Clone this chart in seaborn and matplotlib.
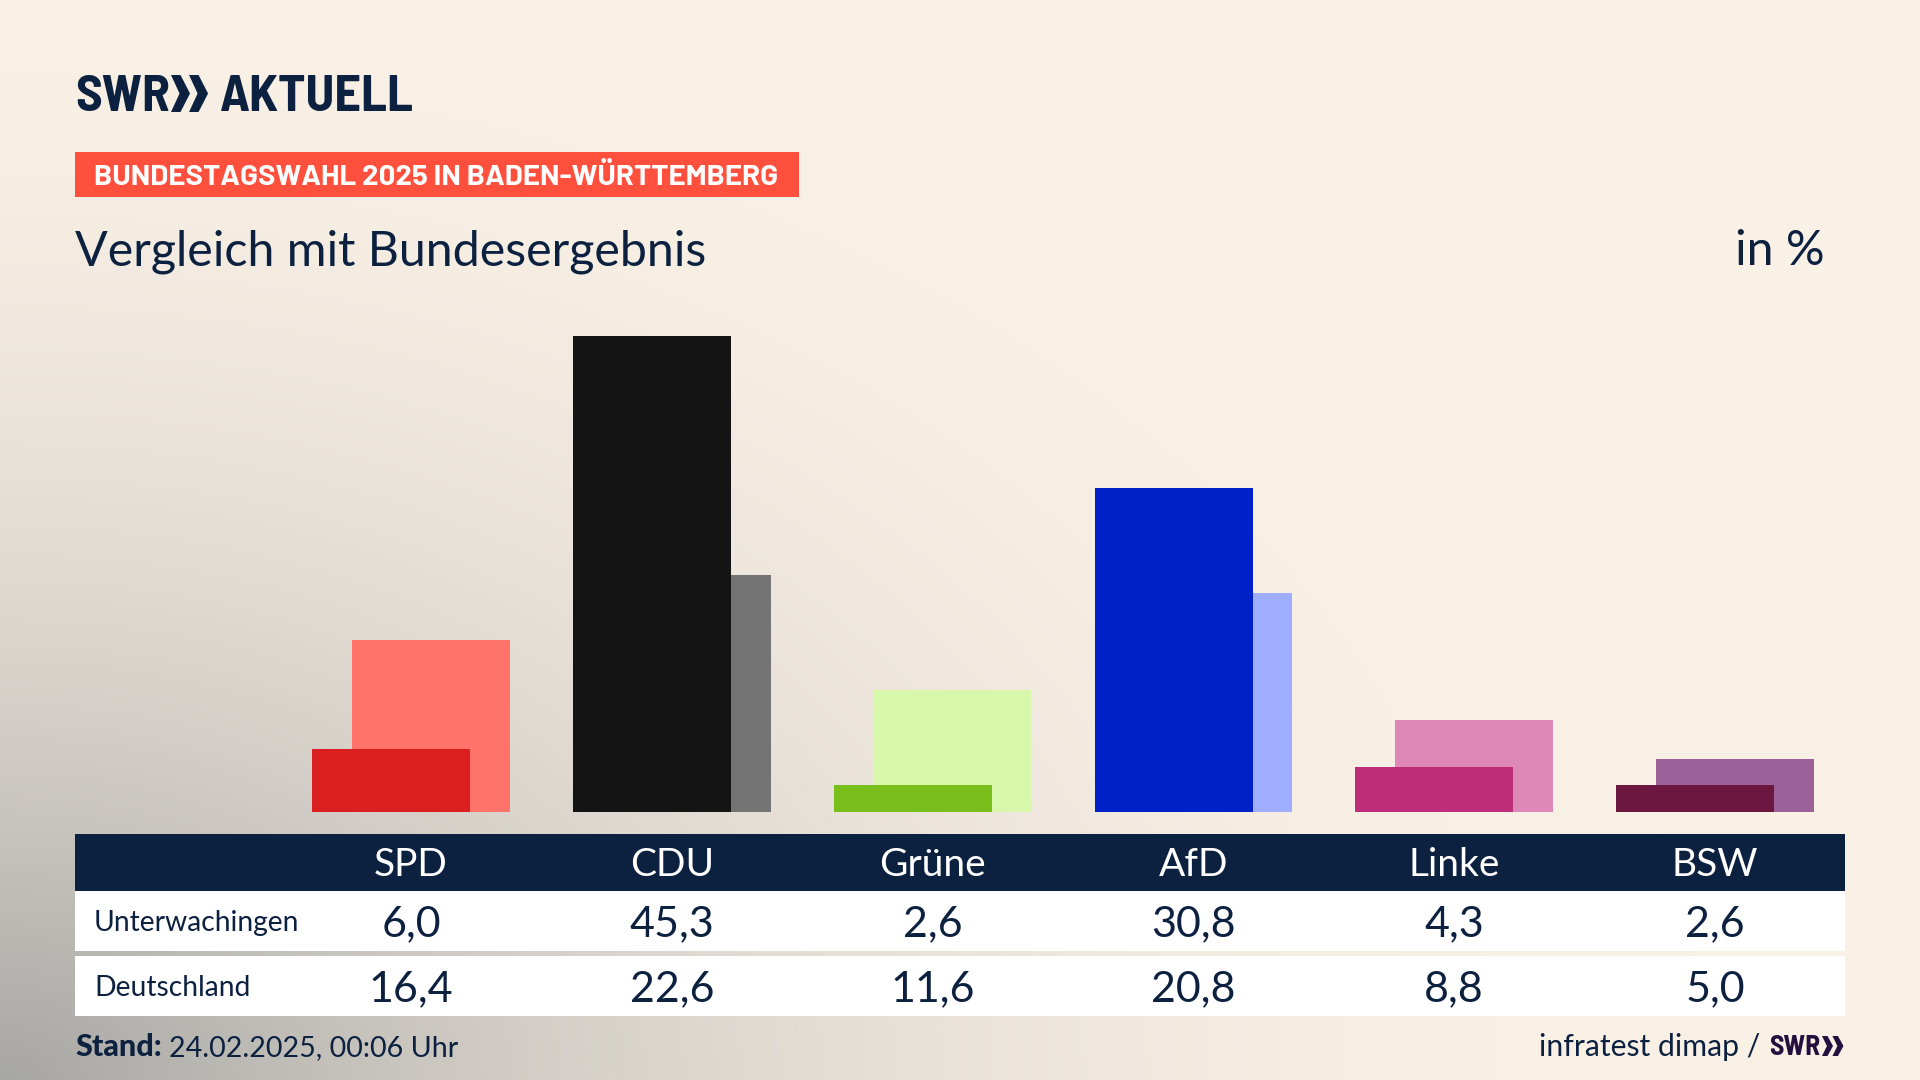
import numpy as np
import pandas as pd
import matplotlib.pyplot as plt
import seaborn as sns
from matplotlib.patches import Polygon, Rectangle

#%% data
parties = ['SPD', 'CDU', 'Grüne', 'AfD', 'Linke', 'BSW']
unterwachingen = [6.0, 45.3, 2.6, 30.8, 4.3, 2.6]
deutschland = [16.4, 22.6, 11.6, 20.8, 8.8, 5.0]
colors_local = ['#D91F1F', '#141414', '#79BE1A', '#0020C8', '#BC2E78', '#6B1740']
colors_de = ['#FF736B', '#757474', '#D7F7AB', '#9FADFF', '#DE88B7', '#9C6199']
row_labels = ['Unterwachingen', 'Deutschland']

NAVY = '#0C2040'
CREAM = np.array([250, 241, 230]) / 255
GREY = np.array([166, 166, 163]) / 255
FONT = 'Lato'
SEMI = ['Barlow Semi Condensed', 'Lato']
WIDE = ['Barlow', 'Lato']

sns.set_style('white')
plt.rcParams['font.family'] = [FONT, 'DejaVu Sans']

fig = plt.figure(figsize=(19.2, 10.8), dpi=100)

#%% background + pixel layer
bg = fig.add_axes([0, 0, 1, 1], zorder=0)
yy, xx = np.mgrid[0:1080:4, 0:1920:4]
dist = np.sqrt((xx / 1700) ** 2 + ((1080 - yy) / 1150) ** 2)
t = np.clip(1 - dist, 0, 1)[..., None] ** 2
bg.imshow(CREAM * (1 - t) + GREY * t, extent=(0, 1920, 1080, 0), aspect='auto', interpolation='bilinear')
bg.set_xlim(0, 1920)
bg.set_ylim(1080, 0)
bg.axis('off')


def chevrons(ax, x, top, bottom, w, color):
    # the two >> of the logo
    mid = (top + bottom) / 2
    for dx in (0, w * 0.95):
        ax.add_patch(Polygon([(x + dx, top), (x + dx + w * 0.5, top + 0.0), (x + dx + w, mid),
                              (x + dx + w * 0.5, bottom), (x + dx, bottom), (x + dx + w * 0.45, mid)],
                             closed=True, fc=color, ec='none'))


#%% bars
FIRST_CENTER = 411
STEP = 260.8
BASE_Y = 812
TOP_Y = 336
ax = fig.add_axes([75 / 1920, 1 - BASE_Y / 1080, 1770 / 1920, (BASE_Y - TOP_Y) / 1080], zorder=1)
ax.patch.set_alpha(0)
pos = np.arange(len(parties))
offset = 39.7 / 2 / STEP
bar_w = 158 / STEP

df_de = pd.DataFrame({'x': pos + offset, 'value': deutschland, 'party': parties})
df_local = pd.DataFrame({'x': pos - offset, 'value': unterwachingen, 'party': parties})
sns.barplot(data=df_de, x='x', y='value', hue='party', palette=colors_de, native_scale=True, dodge=False,
            width=bar_w, saturation=1, linewidth=0, errorbar=None, legend=False, ax=ax)
sns.barplot(data=df_local, x='x', y='value', hue='party', palette=colors_local, native_scale=True, dodge=False,
            width=bar_w, saturation=1, linewidth=0, errorbar=None, legend=False, ax=ax)
ax.set_xlim((75 - FIRST_CENTER) / STEP, (1845 - FIRST_CENTER) / STEP)
ax.set_ylim(0, max(unterwachingen))
ax.axis('off')

#%% header
top = fig.add_axes([0, 0, 1, 1], zorder=2)
top.set_xlim(0, 1920)
top.set_ylim(1080, 0)
top.axis('off')

top.text(75, 111, 'SWR', fontsize=37, fontweight='bold', family=SEMI, color=NAVY, va='baseline')
chevrons(top, 171, 75, 112, 19, NAVY)
top.text(219, 111, 'AKTUELL', fontsize=37.5, fontweight='bold', family=SEMI, color=NAVY, va='baseline')

top.add_patch(Rectangle((75, 152), 724, 45, fc='#FF503D', ec='none'))
top.text(94, 185, 'BUNDESTAGSWAHL 2025 IN BADEN-WÜRTTEMBERG', fontsize=21.2, fontweight='bold', family=WIDE, color='white', va='baseline')
top.text(75, 265, 'Vergleich mit Bundesergebnis', fontsize=34.8, color=NAVY, va='baseline')
top.text(1825, 265, 'in %', fontsize=34.8, color=NAVY, ha='right', va='baseline')

#%% table
top.add_patch(Rectangle((75, 834), 1770, 57, fc=NAVY, ec='none'))
top.add_patch(Rectangle((75, 891), 1770, 60, fc='white', ec='none'))
top.add_patch(Rectangle((75, 956), 1770, 60, fc='white', ec='none'))
for i, name in enumerate(parties):
    cx = FIRST_CENTER + STEP * i
    top.text(cx, 876, name, fontsize=28, color='white', ha='center', va='baseline')
    top.text(cx, 936, f'{unterwachingen[i]:.1f}'.replace('.', ','), fontsize=31, color=NAVY, ha='center', va='baseline')
    top.text(cx, 1001, f'{deutschland[i]:.1f}'.replace('.', ','), fontsize=31, color=NAVY, ha='center', va='baseline')
top.text(94, 931, row_labels[0], fontsize=20.3, color=NAVY, va='baseline')
top.text(94, 996, row_labels[1], fontsize=20.3, color=NAVY, va='baseline')

#%% footer
top.text(75, 1056, 'Stand:', fontsize=22, fontweight='black', color=NAVY, va='baseline')
top.text(169, 1056, '24.02.2025, 00:06 Uhr', fontsize=20.6, color=NAVY, va='baseline')
top.text(1760, 1056, 'infratest dimap /', fontsize=21.7, color=NAVY, ha='right', va='baseline')
top.text(1769, 1055, 'SWR', fontsize=20, fontweight='bold', family=SEMI, color='#240F3F', va='baseline')
chevrons(top, 1822, 1036, 1056, 11, '#240F3F')

fig.savefig('out.png', dpi=100)
